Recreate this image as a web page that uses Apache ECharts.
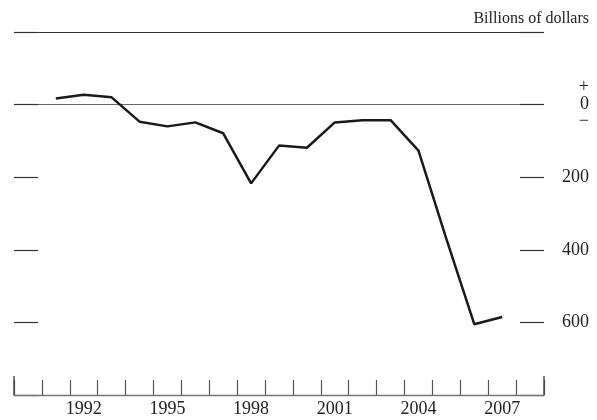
<!DOCTYPE html>
<html>
<head>
<meta charset="utf-8">
<script src="https://cdn.jsdelivr.net/npm/echarts@6/dist/echarts.min.js"></script>
<style>
  html, body { margin: 0; padding: 0; background: #fff; }
  #chart { width: 597px; height: 420px; }
</style>
</head>
<body>
<div id="chart"></div>
<script>
const years = ['1990','1991','1992','1993','1994','1995','1996','1997','1998','1999',
               '2000','2001','2002','2003','2004','2005','2006','2007','2008']
const balance = [null, 17, 27, 20, -47, -60, -49, -79, -217, -113,
                 -119, -49, -43, -43, -127, -370, -605, -585, null]
const yTicks = [0, -200, -400, -600]
const labelYears = ['1992','1995','1998','2001','2004','2007']

const serif = '"Liberation Serif", "DejaVu Serif", serif'
const L = 14, R = 53, T = 32, B = 25

let chart = echarts.init(document.getElementById('chart'))
chart.setOption({
    animation: false,
    title: {
        text: 'Billions of dollars',
        right: 3,
        top: 6,
        textStyle: { fontFamily: serif, fontSize: 16, fontWeight: 'normal', color: '#222' }
    },
    grid: { left: L, right: R, top: T, bottom: B, containLabel: false },
    xAxis: {
        type: 'category',
        data: years,
        boundaryGap: true,
        z: 5,
        axisLine: { show: true, onZero: false, lineStyle: { color: '#777', width: 1.4 } },
        axisTick: {
            show: true,
            inside: true,
            length: 15,
            interval: 0,
            lineStyle: { color: '#555', width: 1.2 }
        },
        axisLabel: {
            interval: (i, v) => labelYears.indexOf(v) >= 0,
            fontFamily: serif,
            fontSize: 18,
            color: '#222',
            margin: 5
        },
        splitLine: { show: false }
    },
    yAxis: [{
        type: 'value',
        min: -800,
        max: 200,
        interval: 200,
        position: 'right',
        axisLine: { show: false },
        axisTick: {
            show: true,
            inside: true,
            length: 24,
            lineStyle: { color: '#333', width: 1.2 }
        },
        axisLabel: {
            margin: 45,
            align: 'right',
            fontFamily: serif,
            fontSize: 18,
            color: '#222',
            formatter: v => yTicks.indexOf(v) < 0 ? '' : (v === 0 ? '{s|+}\n0\n{s|\u2212}' : String(Math.abs(v))),
            lineHeight: 17,
            rich: { s: { fontFamily: serif, fontSize: 18, lineHeight: 17, color: '#222' } }
        },
        splitLine: {
            show: true,
            lineStyle: {
                color: ['transparent', 'transparent', 'transparent', 'transparent', '#666', '#333'],
                width: 1.2
            }
        }
    }, {
        type: 'value',
        min: -800,
        max: 200,
        interval: 200,
        position: 'left',
        axisLine: { show: false },
        axisTick: {
            show: true,
            inside: true,
            length: 24,
            lineStyle: { color: '#333', width: 1.2 }
        },
        axisLabel: { show: false },
        splitLine: { show: false }
    }],
    graphic: [
        { type: 'line', z: 10, shape: { x1: L, y1: 420 - B - 19, x2: L, y2: 420 - B }, style: { stroke: '#444', lineWidth: 1.4 } },
        { type: 'line', z: 10, shape: { x1: 597 - R, y1: 420 - B - 19, x2: 597 - R, y2: 420 - B }, style: { stroke: '#444', lineWidth: 1.4 } }
    ],
    series: [{
        type: 'line',
        data: balance,
        symbol: 'none',
        connectNulls: false,
        lineStyle: { color: '#1a1a1a', width: 2.5 }
    }]
})
</script>
</body>
</html>
